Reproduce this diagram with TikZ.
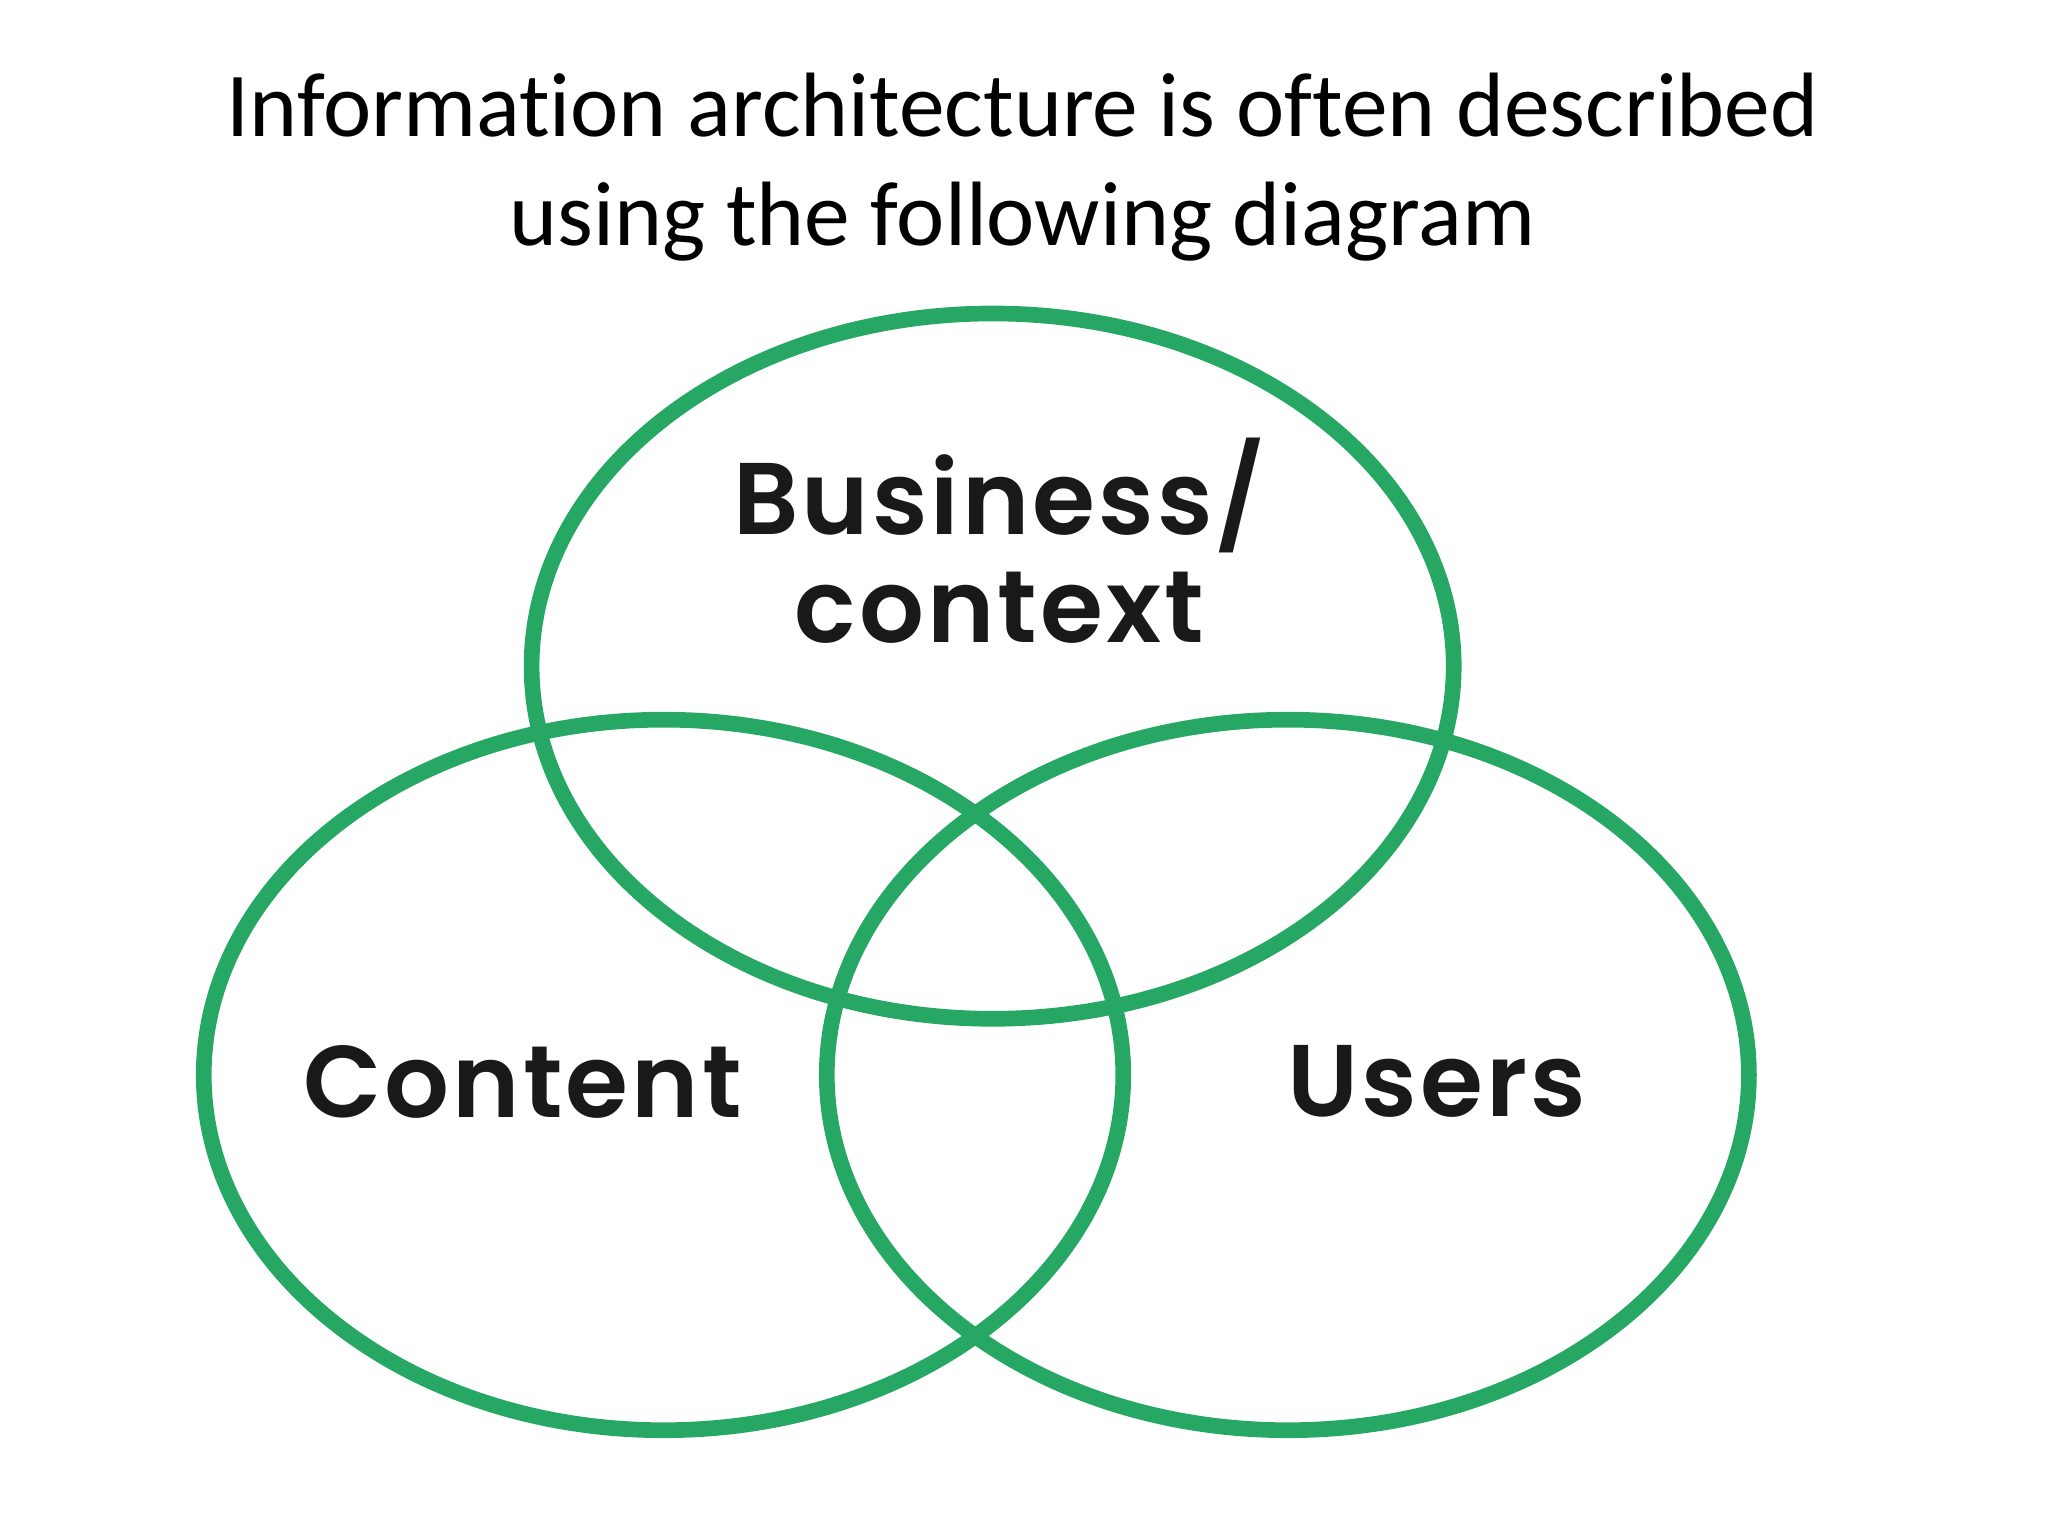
\documentclass[tikz,border=0pt]{standalone}
\usepackage{fontspec}
\setmainfont{Carlito}[Ligatures={NoCommon}]
\newfontfamily\labfont{Poppins SemiBold}[LetterSpace=3]
\definecolor{vgreen}{RGB}{38,168,100}
\begin{document}
\begin{tikzpicture}[x=1pt,y=-1pt,
  ring/.style={draw=vgreen,line width=12pt},
  lab/.style={font=\labfont\fontsize{78}{80}\selectfont,text=black!90,align=center}]
\useasboundingbox (0,0) rectangle (1568,1176);
\node[font=\fontsize{70}{84}\selectfont,align=center] (title) at (783,128)
  {Information architecture is often described\\using the following diagram};
\draw[ring] (760,510) ellipse [x radius=353,y radius=-270];
\draw[ring] (508,823) ellipse [x radius=352,y radius=-272];
\draw[ring] (986,823) ellipse [x radius=353,y radius=-272];
\node[lab] (biz) at (765,414) {Business/\\[2pt]context};
\node[lab] (con) at (400,828) {Content};
\node[lab] (usr) at (1100,828) {Users};
\end{tikzpicture}
\end{document}
